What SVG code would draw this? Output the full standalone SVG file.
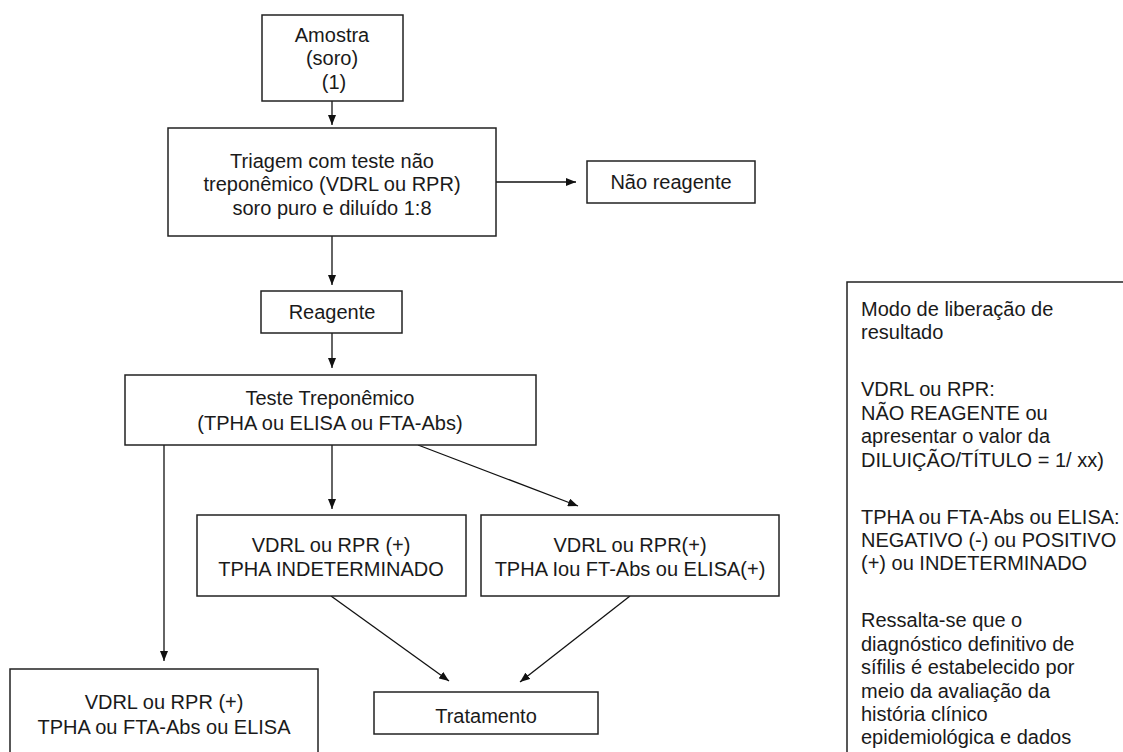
<svg xmlns="http://www.w3.org/2000/svg" width="1123" height="752" viewBox="0 0 1123 752">
<defs>
<style>
.box{fill:#fff;stroke:#222;stroke-width:1.5}
.t{font-family:"Liberation Sans",Arial,sans-serif;font-size:20px;fill:#1a1a1a;text-anchor:middle}
.n{font-family:"Liberation Sans",Arial,sans-serif;font-size:20px;fill:#1a1a1a}
.c{stroke:#111;stroke-width:1.3;fill:none;marker-end:url(#ah)}
</style>
<marker id="ah" markerUnits="userSpaceOnUse" markerWidth="10" markerHeight="8" refX="10" refY="4" orient="auto">
<path d="M0,0 L10,4 L0,8 z" fill="#111"/>
</marker>
</defs>
<rect width="1123" height="752" fill="#fff"/>
<g id="connectors">
<line class="c" x1="332" y1="101" x2="332" y2="125"/>
<line class="c" x1="496" y1="182" x2="576" y2="182"/>
<line class="c" x1="332" y1="236" x2="332" y2="285"/>
<line class="c" x1="332" y1="333" x2="332" y2="368"/>
<line class="c" x1="164" y1="445" x2="164" y2="661"/>
<line class="c" x1="332" y1="445" x2="332" y2="509"/>
<line class="c" x1="418" y1="445" x2="578" y2="506"/>
<line class="c" x1="331" y1="596" x2="449" y2="681"/>
<line class="c" x1="630" y1="596" x2="520" y2="682"/>
</g>
<g id="amostra">
<rect class="box" x="262" y="15" width="141" height="86"/>
<text class="t" x="332" y="42">Amostra</text>
<text class="t" x="332" y="65">(soro)</text>
<text class="t" x="334" y="89">(1)</text>
</g>
<g id="triagem">
<rect class="box" x="168" y="128" width="328" height="108"/>
<text class="t" x="332" y="168">Triagem com teste não</text>
<text class="t" x="332" y="191">treponêmico (VDRL ou RPR)</text>
<text class="t" x="332" y="215">soro puro e diluído 1:8</text>
</g>
<g id="nao-reagente">
<rect class="box" x="587" y="161" width="168" height="42"/>
<text class="t" x="671" y="189">Não reagente</text>
</g>
<g id="reagente">
<rect class="box" x="261" y="291" width="141" height="42"/>
<text class="t" x="332" y="319">Reagente</text>
</g>
<g id="teste">
<rect class="box" x="125" y="375" width="411" height="70"/>
<text class="t" x="330" y="405">Teste Treponêmico</text>
<text class="t" x="330" y="430">(TPHA ou ELISA ou FTA-Abs)</text>
</g>
<g id="indeterminado">
<rect class="box" x="197" y="515" width="269" height="81"/>
<text class="t" x="331" y="552">VDRL ou RPR (+)</text>
<text class="t" x="331" y="576">TPHA INDETERMINADO</text>
</g>
<g id="positivo">
<rect class="box" x="481" y="515" width="298" height="81"/>
<text class="t" x="630" y="552">VDRL ou RPR(+)</text>
<text class="t" x="630" y="576">TPHA Iou FT-Abs ou ELISA(+)</text>
</g>
<g id="negativo-trep">
<rect class="box" x="10" y="669" width="308" height="100"/>
<text class="t" x="164" y="709">VDRL ou RPR (+)</text>
<text class="t" x="164" y="734">TPHA ou FTA-Abs ou ELISA</text>
</g>
<g id="tratamento">
<rect class="box" x="374" y="692" width="224" height="42"/>
<text class="t" x="486" y="723">Tratamento</text>
</g>
<g id="nota">
<rect class="box" x="847" y="282" width="300" height="500"/>
<text class="n" x="861" y="316">Modo de liberação de</text>
<text class="n" x="861" y="339">resultado</text>
<text class="n" x="861" y="396">VDRL ou RPR:</text>
<text class="n" x="861" y="420">NÃO REAGENTE ou</text>
<text class="n" x="861" y="443">apresentar o valor da</text>
<text class="n" x="861" y="467">DILUIÇÃO/TÍTULO = 1/ xx)</text>
<text class="n" x="861" y="524">TPHA ou FTA-Abs ou ELISA:</text>
<text class="n" x="861" y="547">NEGATIVO (-) ou POSITIVO</text>
<text class="n" x="861" y="570">(+) ou INDETERMINADO</text>
<text class="n" x="861" y="627">Ressalta-se que o</text>
<text class="n" x="861" y="651">diagnóstico definitivo de</text>
<text class="n" x="861" y="674">sífilis é estabelecido por</text>
<text class="n" x="861" y="698">meio da avaliação da</text>
<text class="n" x="861" y="721">história clínico</text>
<text class="n" x="861" y="744">epidemiológica e dados</text>
</g>
</svg>
